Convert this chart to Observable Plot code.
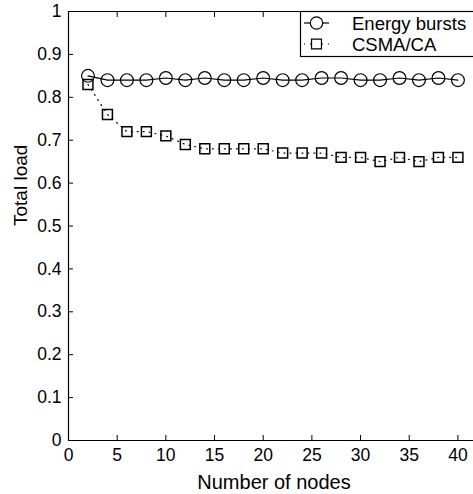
<!DOCTYPE html>
<html>
<head>
<meta charset="utf-8">
<script src="https://cdn.jsdelivr.net/npm/d3@7"></script>
<script src="https://cdn.jsdelivr.net/npm/@observablehq/plot@0.6"></script>
<style>
  html, body { margin: 0; padding: 0; background: #fff; overflow: hidden; }
  svg { display: block; }
</style>
</head>
<body>
<div id="chart"></div>
<script>
const nodes = [2,4,6,8,10,12,14,16,18,20,22,24,26,28,30,32,34,36,38,40];
const energyBursts = [0.85,0.84,0.84,0.84,0.845,0.84,0.845,0.84,0.84,0.845,0.84,0.84,0.845,0.845,0.84,0.84,0.845,0.84,0.845,0.84];
const csmaCa = [0.83,0.76,0.72,0.72,0.71,0.69,0.68,0.68,0.68,0.68,0.67,0.67,0.67,0.66,0.66,0.65,0.66,0.65,0.66,0.66];
const seriesNames = ["Energy bursts", "CSMA/CA"];
const xTicks = [0,5,10,15,20,25,30,35,40];
const yTicks = [0,0.1,0.2,0.3,0.4,0.5,0.6,0.7,0.8,0.9,1];
const xLabel = "Number of nodes";
const yLabel = "Total load";

const energyData = nodes.map((n, i) => ({n, v: energyBursts[i]}));
const csmaData = nodes.map((n, i) => ({n, v: csmaCa[i]}));

const font = "'Liberation Sans', Arial, Helvetica, sans-serif";

const chart = Plot.plot({
  width: 473,
  height: 494,
  marginLeft: 68,
  marginRight: 0,
  marginTop: 11,
  marginBottom: 54,
  style: {fontFamily: font, fontSize: "17px", color: "#000", background: "#fff"},
  x: {domain: [0, 41.6]},
  y: {domain: [0, 1]},
  marks: [
    Plot.ruleY([0, 1], {stroke: "#000", strokeWidth: 1.2}),
    Plot.ruleX([0], {stroke: "#000", strokeWidth: 1.2}),
    // inward tick marks
    Plot.axisX({ticks: xTicks, tickSize: 5, dy: -5, label: null, tickFormat: () => ""}),
    Plot.axisX({anchor: "top", ticks: xTicks, tickSize: 5, dy: 5, label: null, tickFormat: () => ""}),
    Plot.axisY({ticks: yTicks, tickSize: 5, dx: 5, label: null, tickFormat: () => ""}),
    // tick labels
    Plot.axisX({ticks: xTicks, tickSize: 0, tickPadding: 8, fontSize: 17.5, label: null, tickFormat: d => String(d)}),
    Plot.axisY({ticks: yTicks, tickSize: 0, tickPadding: 7, fontSize: 17.5, label: null, tickFormat: d => String(+d.toFixed(1))}),
    Plot.text([yLabel], {frameAnchor: "left", dx: -48, rotate: -90, fontSize: 19, text: d => d, fill: "#000"}),
    Plot.text([xLabel], {frameAnchor: "bottom", dy: 42, dx: 3, fontSize: 20, lineAnchor: "middle", text: d => d, fill: "#000"}),
    Plot.line(csmaData, {x: "n", y: "v", stroke: "#000", strokeWidth: 1.2, strokeDasharray: "1,5"}),
    Plot.dot(csmaData, {x: "n", y: "v", symbol: "square", r: 5.6, stroke: "#000", strokeWidth: 1.5, fill: "none"}),
    Plot.line(energyData, {x: "n", y: "v", stroke: "#000", strokeWidth: 1.2}),
    Plot.dot(energyData, {x: "n", y: "v", symbol: "circle", r: 6.4, stroke: "#000", strokeWidth: 1.2, fill: "none"})
  ]
});

document.getElementById("chart").appendChild(chart);

// legend inside the axes, top right
const svg = d3.select(chart);
const lg = svg.append("g").attr("font-family", font).attr("font-size", 18.5).attr("text-anchor", "start");
lg.append("rect").attr("x", 300.5).attr("y", 11.5).attr("width", 200).attr("height", 45)
  .attr("fill", "#fff").attr("stroke", "#000").attr("stroke-width", 1.2);
const rows = [
  {name: seriesNames[0], y: 23, dash: null, sym: d3.symbolCircle, r: 6.2},
  {name: seriesNames[1], y: 44, dash: "1,5", sym: d3.symbolSquare, r: 5.6}
];
rows.forEach(row => {
  lg.append("line").attr("x1", 304).attr("x2", 329).attr("y1", row.y).attr("y2", row.y)
    .attr("stroke", "#000").attr("stroke-width", 1.2).attr("stroke-dasharray", row.dash);
  lg.append("path").attr("transform", `translate(316.5,${row.y})`)
    .attr("d", d3.symbol(row.sym, Math.PI * row.r * row.r)())
    .attr("fill", "#fff").attr("stroke", "#000").attr("stroke-width", 1.2);
  lg.append("text").attr("x", 352).attr("y", row.y).attr("dy", "0.36em").attr("fill", "#000").text(row.name);
});
</script>
</body>
</html>
